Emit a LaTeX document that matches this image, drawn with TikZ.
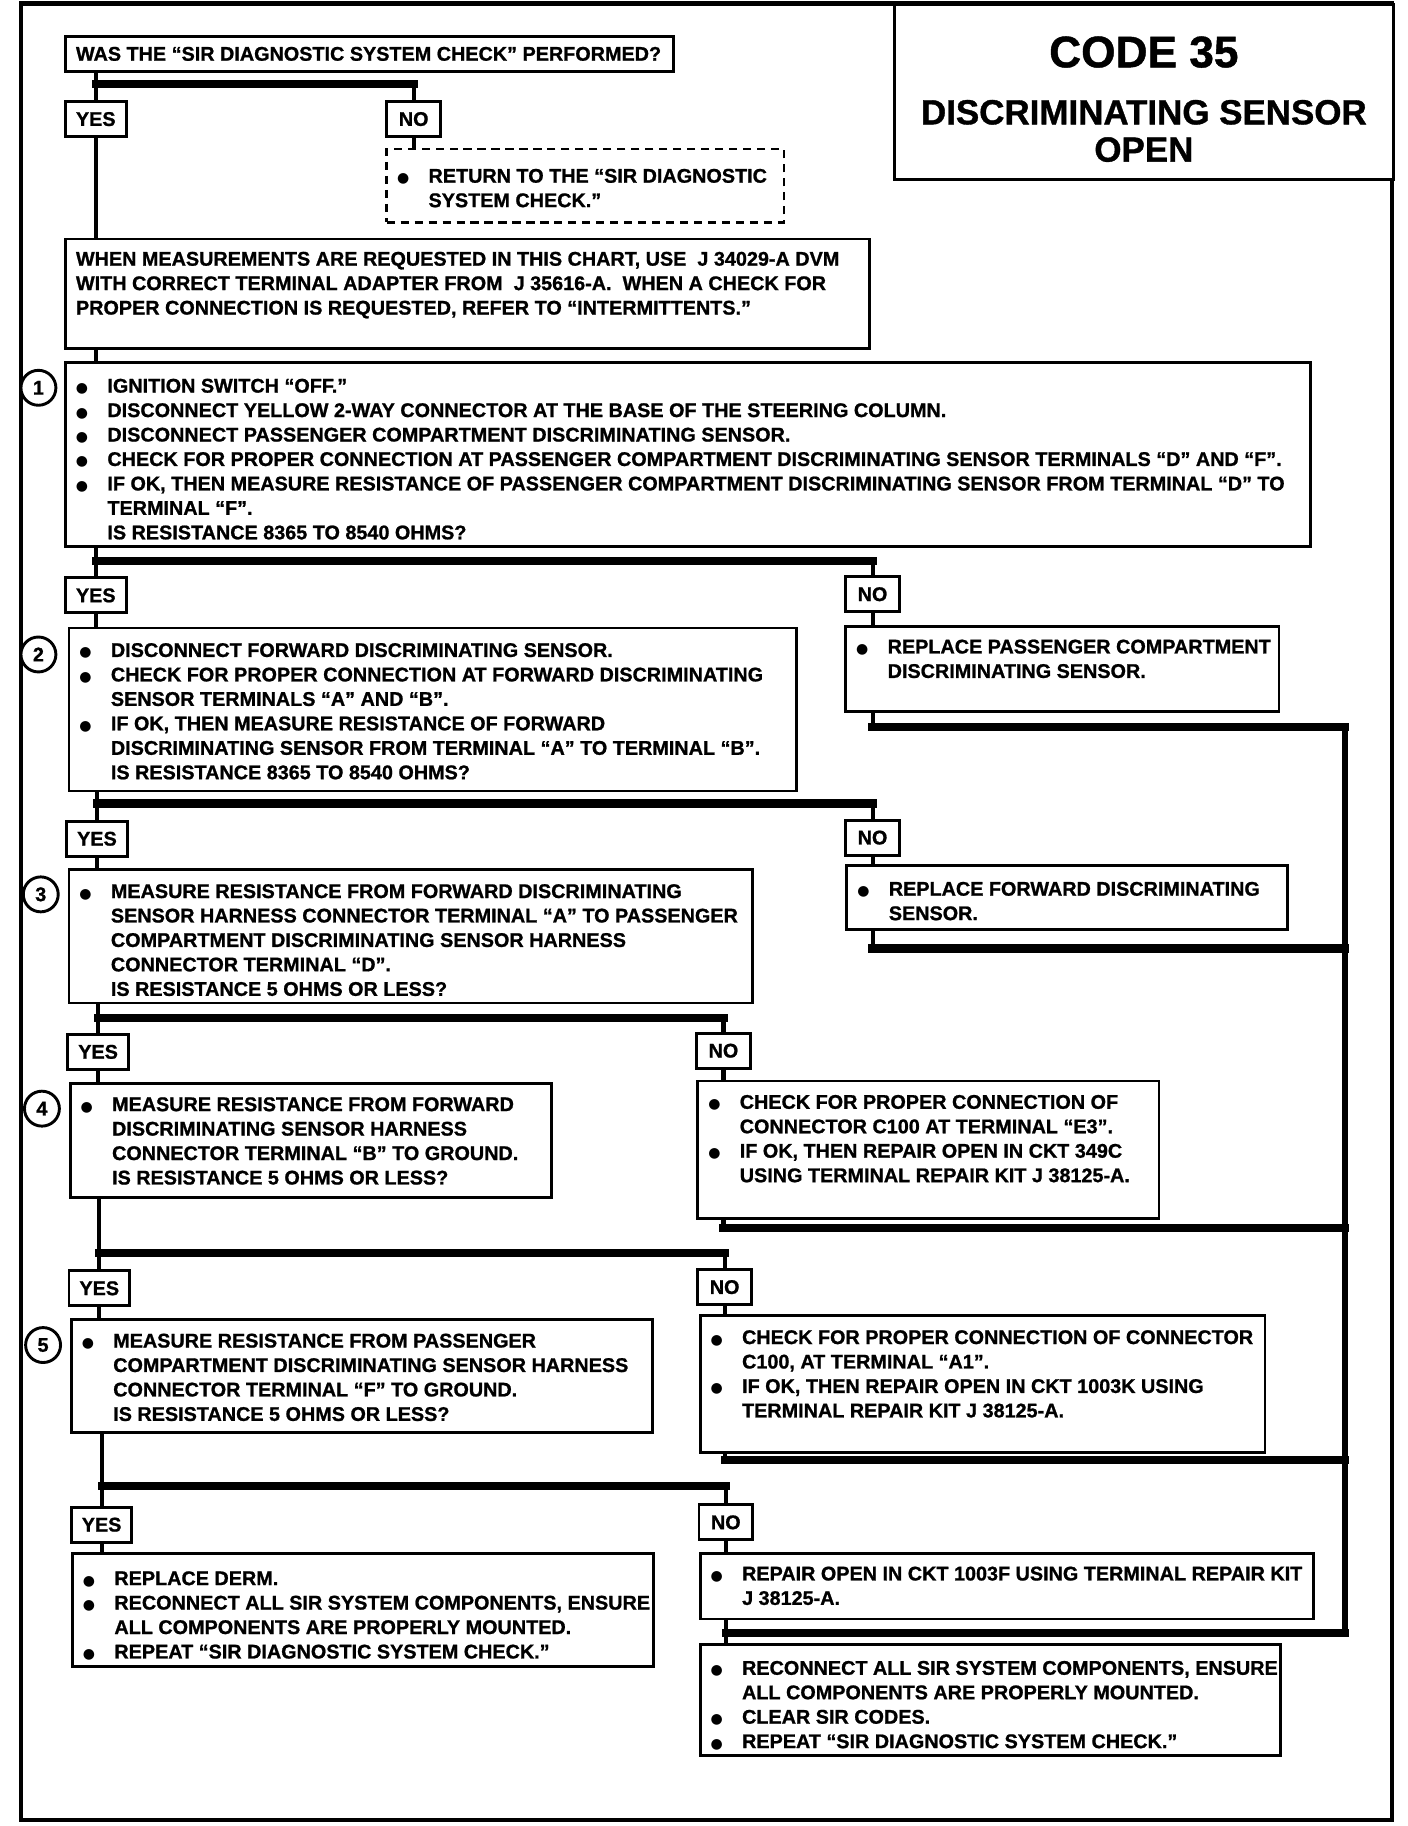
\documentclass[tikz,border=0pt]{standalone}
\usepackage{fontspec}
\setmainfont{Liberation Sans}[BoldFeatures={FakeBold=1}]
\newfontfamily\pSym{DejaVu Sans}
\newcommand{\pBox}[4][12]{\parbox[t][#3pt][t]{#2pt}{\vspace*{#1pt}#4}}
\newcommand{\pDot}{{\pSym\fontsize{12}{12}\selectfont ●}}
\newcommand{\pItem}[1]{\par\noindent\hspace*{9pt}\makebox[27pt][l]{\pDot}\mbox{#1}}
\newcommand{\pMore}[1]{\par\noindent\hspace*{36pt}\mbox{#1}}
\newcommand{\pPlain}[1]{\par\noindent\hspace*{9pt}\mbox{#1}}

\begin{document}
\begin{tikzpicture}[x=1pt,y=-1pt,
  font=\bfseries\fontsize{17}{21}\selectfont,
  chartbox/.style={draw, line width=2.5pt, fill=white, inner sep=0pt, anchor=north west},
  dashedbox/.style={chartbox, line width=2pt, dash pattern=on 7pt off 5pt},
  yesno/.style={chartbox, minimum height=30pt, minimum width=52pt},
  stepcircle/.style={draw, circle, line width=2.5pt, fill=white, minimum size=30pt, inner sep=0pt},
  trunk/.style={line width=3.5pt},
  branchbar/.style={line width=7pt, line cap=rect},
  chartframe/.style={line width=3.5pt}]
\useasboundingbox (0,0) rectangle (1209,1568);
\draw[chartframe] (18,3) rectangle (1195,1563);
\node[chartbox] (title) at (767,3) {\parbox[t][150pt][t]{428pt}{\centering\vspace*{27pt}{\fontsize{38}{40}\selectfont CODE 35\par}\vspace{17pt}{\fontsize{30}{32}\selectfont DISCRIMINATING SENSOR\\OPEN\par}}};
% question and first branch
\node[chartbox] (q0) at (55,30) {\pBox[9]{522}{30}{\pPlain{WAS THE ``SIR DIAGNOSTIC SYSTEM CHECK'' PERFORMED?}}};
\node[yesno] (y0) at (55,86) {YES};
\node[yesno, minimum width=46pt] (n0) at (331,86) {NO};
\node[dashedbox] (ret) at (331,127) {\pBox[17]{341}{63}{\pItem{RETURN TO THE ``SIR DIAGNOSTIC}\pMore{SYSTEM CHECK.''}}};
\node[chartbox] (info) at (55,204) {\pBox[11]{690}{94}{\pPlain{WHEN MEASUREMENTS ARE REQUESTED IN THIS CHART, USE\ \ J 34029-A DVM}\pPlain{WITH CORRECT TERMINAL ADAPTER FROM\ \ J 35616-A.\ \ WHEN A CHECK FOR}\pPlain{PROPER CONNECTION IS REQUESTED, REFER TO ``INTERMITTENTS.''}}};
% step 1
\node[chartbox] (b1) at (55,310) {\pBox[14]{1069}{158}{\pItem{IGNITION SWITCH ``OFF.''}\pItem{DISCONNECT YELLOW 2-WAY CONNECTOR AT THE BASE OF THE STEERING COLUMN.}\pItem{DISCONNECT PASSENGER COMPARTMENT DISCRIMINATING SENSOR.}\pItem{CHECK FOR PROPER CONNECTION AT PASSENGER COMPARTMENT DISCRIMINATING SENSOR TERMINALS ``D'' AND ``F''.}\pItem{IF OK, THEN MEASURE RESISTANCE OF PASSENGER COMPARTMENT DISCRIMINATING SENSOR FROM TERMINAL ``D'' TO}\pMore{TERMINAL ``F''.}\pMore{IS RESISTANCE 8365 TO 8540 OHMS?}}};
\node[stepcircle] (c1) at (33,333) {1};
\node[yesno] (y1) at (55,495) {YES};
\node[yesno, minimum width=46pt] (n1) at (725,494) {NO};
% step 2
\node[chartbox] (b2) at (58,538) {\pBox[13]{625}{140}{\pItem{DISCONNECT FORWARD DISCRIMINATING SENSOR.}\pItem{CHECK FOR PROPER CONNECTION AT FORWARD DISCRIMINATING}\pMore{SENSOR TERMINALS ``A'' AND ``B''.}\pItem{IF OK, THEN MEASURE RESISTANCE OF FORWARD}\pMore{DISCRIMINATING SENSOR FROM TERMINAL ``A'' TO TERMINAL ``B''.}\pMore{IS RESISTANCE 8365 TO 8540 OHMS?}}};
\node[stepcircle] (c2) at (33,562) {2};
\node[chartbox] (r2) at (725,537) {\pBox[11]{372}{73}{\pItem{REPLACE PASSENGER COMPARTMENT}\pMore{DISCRIMINATING SENSOR.}}};
\node[yesno] (y2) at (56,704) {YES};
\node[yesno, minimum width=46pt] (n2) at (725,703) {NO};
% step 3
\node[chartbox] (b3) at (58,745) {\pBox[13]{587}{115}{\pItem{MEASURE RESISTANCE FROM FORWARD DISCRIMINATING}\pMore{SENSOR HARNESS CONNECTOR TERMINAL ``A'' TO PASSENGER}\pMore{COMPARTMENT DISCRIMINATING SENSOR HARNESS}\pMore{CONNECTOR TERMINAL ``D''.}\pMore{IS RESISTANCE 5 OHMS OR LESS?}}};
\node[stepcircle] (c3) at (35,768) {3};
\node[chartbox] (r3) at (726,742) {\pBox[14]{378}{55}{\pItem{REPLACE FORWARD DISCRIMINATING}\pMore{SENSOR.}}};
\node[yesno] (y3) at (57,887) {YES};
\node[yesno, minimum width=46pt] (n3) at (597,886) {NO};
% step 4
\node[chartbox] (b4) at (59,929) {\pBox[12]{413}{98}{\pItem{MEASURE RESISTANCE FROM FORWARD}\pMore{DISCRIMINATING SENSOR HARNESS}\pMore{CONNECTOR TERMINAL ``B'' TO GROUND.}\pMore{IS RESISTANCE 5 OHMS OR LESS?}}};
\node[stepcircle] (c4) at (36,952) {4};
\node[chartbox] (r4) at (598,927) {\pBox[12]{396}{118}{\pItem{CHECK FOR PROPER CONNECTION OF}\pMore{CONNECTOR C100 AT TERMINAL ``E3''.}\pItem{IF OK, THEN REPAIR OPEN IN CKT 349C}\pMore{USING TERMINAL REPAIR KIT J 38125-A.}}};
\node[yesno] (y4) at (58,1090) {YES};
\node[yesno, minimum width=46pt] (n4) at (598,1089) {NO};
% step 5
\node[chartbox] (b5) at (60,1132) {\pBox[12]{499}{97}{\pItem{MEASURE RESISTANCE FROM PASSENGER}\pMore{COMPARTMENT DISCRIMINATING SENSOR HARNESS}\pMore{CONNECTOR TERMINAL ``F'' TO GROUND.}\pMore{IS RESISTANCE 5 OHMS OR LESS?}}};
\node[stepcircle] (c5) at (37,1155) {5};
\node[chartbox] (r5) at (600,1128) {\pBox[13]{485}{118}{\pItem{CHECK FOR PROPER CONNECTION OF CONNECTOR}\pMore{C100, AT TERMINAL ``A1''.}\pItem{IF OK, THEN REPAIR OPEN IN CKT 1003K USING}\pMore{TERMINAL REPAIR KIT J 38125-A.}}};
\node[yesno] (y5) at (60,1293) {YES};
\node[yesno, minimum width=46pt] (n5) at (599,1291) {NO};
% last answers
\node[chartbox] (b6) at (61,1333) {\pBox[15]{499}{97}{\pItem{REPLACE DERM.}\pItem{RECONNECT ALL SIR SYSTEM COMPONENTS, ENSURE}\pMore{ALL COMPONENTS ARE PROPERLY MOUNTED.}\pItem{REPEAT ``SIR DIAGNOSTIC SYSTEM CHECK.''}}};
\node[chartbox] (r6) at (600,1333) {\pBox[11]{527}{56}{\pItem{REPAIR OPEN IN CKT 1003F USING TERMINAL REPAIR KIT}\pMore{J 38125-A.}}};
\node[chartbox] (fin) at (600,1411) {\pBox[14]{498}{95}{\pItem{RECONNECT ALL SIR SYSTEM COMPONENTS, ENSURE}\pMore{ALL COMPONENTS ARE PROPERLY MOUNTED.}\pItem{CLEAR SIR CODES.}\pItem{REPEAT ``SIR DIAGNOSTIC SYSTEM CHECK.''}}};
% yes / no branches
\coordinate (j0) at ([yshift=14pt]y0.north);
\draw[trunk] (q0.south -| y0.north) -- (y0.north);
\draw[branchbar] (j0) -- (j0 -| n0.north);
\draw[trunk] (j0 -| n0.north) -- (n0.north);
\draw[trunk] (n0.south) -- (n0.south |- ret.north);
\draw[trunk] (y0.south) -- (y0.south |- info.north);
\draw[trunk] (y0.south |- info.south) -- (y0.south |- b1.north);
\coordinate (j1) at ([yshift=13pt]y1.north);
\draw[trunk] (y1.north |- b1.south) -- (y1.north);
\draw[branchbar] (j1) -- (j1 -| n1.north);
\draw[trunk] (j1 -| n1.north) -- (n1.north);
\draw[trunk] (y1.south) -- (y1.south |- b2.north);
\draw[trunk] (n1.south) -- (n1.south |- r2.north);
\coordinate (j2) at ([yshift=14pt]y2.north);
\draw[trunk] (y2.north |- b2.south) -- (y2.north);
\draw[branchbar] (j2) -- (j2 -| n2.north);
\draw[trunk] (j2 -| n2.north) -- (n2.north);
\draw[trunk] (y2.south) -- (y2.south |- b3.north);
\draw[trunk] (n2.south) -- (n2.south |- r3.north);
\coordinate (j3) at ([yshift=13pt]y3.north);
\draw[trunk] (y3.north |- b3.south) -- (y3.north);
\draw[branchbar] (j3) -- (j3 -| n3.north);
\draw[trunk] (j3 -| n3.north) -- (n3.north);
\draw[trunk] (y3.south) -- (y3.south |- b4.north);
\draw[trunk] (n3.south) -- (n3.south |- r4.north);
\coordinate (j4) at ([yshift=14pt]y4.north);
\draw[trunk] (y4.north |- b4.south) -- (y4.north);
\draw[branchbar] (j4) -- (j4 -| n4.north);
\draw[trunk] (j4 -| n4.north) -- (n4.north);
\draw[trunk] (y4.south) -- (y4.south |- b5.north);
\draw[trunk] (n4.south) -- (n4.south |- r5.north);
\coordinate (j5) at ([yshift=17pt]y5.north);
\draw[trunk] (y5.north |- b5.south) -- (y5.north);
\draw[branchbar] (j5) -- (j5 -| n5.north);
\draw[trunk] (j5 -| n5.north) -- (n5.north);
\draw[trunk] (y5.south) -- (y5.south |- b6.north);
\draw[trunk] (n5.south) -- (n5.south |- r6.north);
% return rail on the right
\coordinate (rail) at (1155,0);
\path (r2.south -| n1.south) ++(0,12) coordinate (k2);
\path (r3.south -| n2.south) ++(0,15) coordinate (k3);
\path (r4.south -| n3.south) ++(0,7) coordinate (k4);
\path (r5.south -| n4.south) ++(0,5) coordinate (k5);
\path (r6.south -| n5.south) ++(0,11) coordinate (k6);
\draw[trunk] (r2.south -| n1.south) -- (k2);
\draw[branchbar] (k2) -- (k2 -| rail);
\draw[trunk] (r3.south -| n2.south) -- (k3);
\draw[branchbar] (k3) -- (k3 -| rail);
\draw[trunk] (r4.south -| n3.south) -- (k4);
\draw[branchbar] (k4) -- (k4 -| rail);
\draw[trunk] (r5.south -| n4.south) -- (k5);
\draw[branchbar] (k5) -- (k5 -| rail);
\draw[trunk] (r6.south -| n5.south) -- (fin.north -| n5.south);
\draw[branchbar] (k6) -- (k6 -| rail);
\draw[trunk, line width=4.5pt] (k2 -| rail) -- (k6 -| rail);
\end{tikzpicture}
\end{document}
